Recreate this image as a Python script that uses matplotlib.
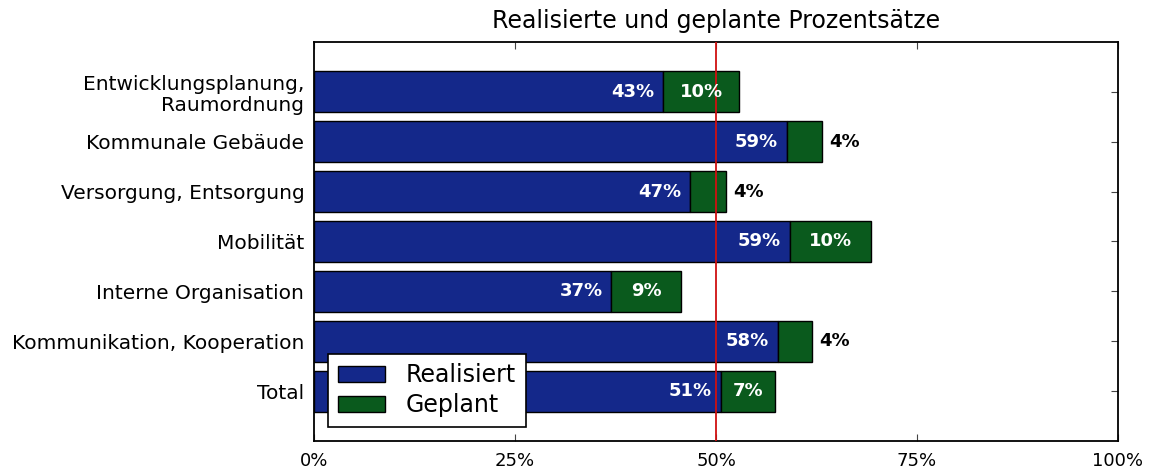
import matplotlib
matplotlib.use("Agg")
import matplotlib.pyplot as plt

categories = ["Entwicklungsplanung,\nRaumordnung", "Kommunale Gebäude",
              "Versorgung, Entsorgung", "Mobilität", "Interne Organisation",
              "Kommunikation, Kooperation", "Total"]
realisiert = [43.4, 58.8, 46.8, 59.2, 37.0, 57.7, 50.6]
geplant = [9.5, 4.4, 4.4, 10.1, 8.6, 4.2, 6.8]
xticks = [0, 25, 50, 75, 100]
xticklabels = ["0%", "25%", "50%", "75%", "100%"]

BLUE = "#14288a"
GREEN = "#0a5a1d"

fig = plt.figure(figsize=(11.55, 4.74), dpi=100)
ax = fig.add_axes([314/1155, 1-441/474, (1118-314)/1155, (441-42)/474])

n = len(categories)
ypos = list(range(n))[::-1]
ax.barh(ypos, realisiert, height=0.82, color=BLUE, edgecolor="black", linewidth=1, label="Realisiert", zorder=2)
ax.barh(ypos, geplant, left=realisiert, height=0.82, color=GREEN, edgecolor="black", linewidth=1, label="Geplant", zorder=2)
ax.axvline(50, color="#d01010", linewidth=1.3, zorder=3)

for y, r, g in zip(ypos, realisiert, geplant):
    ax.text(r - 1.1, y, f"{round(r)}%", ha="right", va="center", color="white",
            fontsize=13, fontweight="bold", zorder=4)
    if g >= 6:
        ax.text(r + g/2, y, f"{round(g)}%", ha="center", va="center", color="white",
                fontsize=13, fontweight="bold", zorder=4)
    else:
        ax.text(r + g + 0.9, y, f"{round(g)}%", ha="left", va="center", color="black",
                fontsize=13, fontweight="bold", zorder=4)

ax.set_xlim(0, 100)
ax.set_ylim(-1, n)
ax.set_xticks(xticks)
ax.set_xticklabels(xticklabels, fontsize=13)
ax.set_yticks(ypos)
ax.set_yticklabels(categories, fontsize=14.5, linespacing=1.15)
ax.tick_params(direction="in", top=True, right=True, length=5, width=0.8, color="#444444")
ax.tick_params(axis="y", pad=7)
ax.tick_params(axis="x", pad=8)
for s in ax.spines.values():
    s.set_linewidth(1.3)
ax.set_title("Realisierte und geplante Prozentsätze", fontsize=17, pad=10)

leg = ax.legend(loc="lower left", fontsize=17, frameon=True, fancybox=False, framealpha=1,
                borderaxespad=0.6, handlelength=2.0, handletextpad=0.9,
                borderpad=0.4, labelspacing=0.25)
leg.get_frame().set_edgecolor("black")
leg.get_frame().set_linewidth(1.2)
leg.set_zorder(5)

fig.savefig("out.png", dpi=100)
